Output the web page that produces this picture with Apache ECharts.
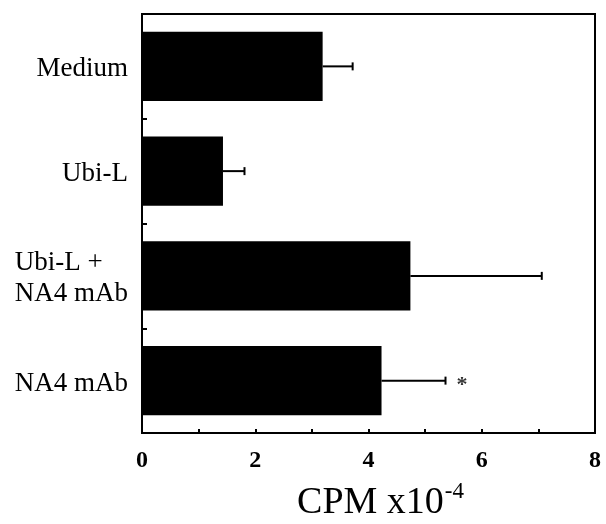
<!DOCTYPE html>
<html><head><meta charset="utf-8">
<script src="https://cdn.jsdelivr.net/npm/echarts@6/dist/echarts.min.js"></script>
<style>html,body{margin:0;padding:0;background:#fff}#c{width:606px;height:524px}</style>
</head><body><div id="c"></div>
<script>
const categories = ['Medium', 'Ubi-L', 'Ubi-L +\nNA4 mAb', 'NA4 mAb'];
const means = [3.19, 1.43, 4.74, 4.23];
const errors = [0.53, 0.38, 2.32, 1.13];
const xTicks = [0, 2, 4, 6, 8];
const annotations = [{ value: 5.65, category: 'NA4 mAb', text: '*' }];

const FONT = '"Liberation Serif", "DejaVu Serif", serif';
const chart = echarts.init(document.getElementById('c'));
chart.setOption({
  animation: false,
  backgroundColor: '#fff',
  grid: { left: 142, right: 11, top: 14, bottom: 91, outerBoundsMode: 'none', containLabel: false, show: true, borderColor: '#000', borderWidth: 2, backgroundColor: 'transparent' },
  xAxis: {
    type: 'value', min: xTicks[0], max: xTicks[xTicks.length - 1], interval: 2,
    axisLine: { show: true, lineStyle: { color: '#000', width: 2 } },
    axisTick: { show: true, inside: true, length: 4, lineStyle: { color: '#000', width: 2 } },
    minorTick: { show: true, splitNumber: 2, length: 4, lineStyle: { color: '#000', width: 2 } },
    splitLine: { show: false },
    axisLabel: { color: '#000', fontFamily: FONT, fontSize: 24, fontWeight: 'bold', margin: 16 },
    name: '{a|CPM x10}{b|-4}', nameLocation: 'middle', nameGap: 47,
    nameTextStyle: {
      padding: [0, 0, 0, 24],
      rich: {
        a: { fontFamily: FONT, fontSize: 38, color: '#000', verticalAlign: 'bottom', lineHeight: 42 },
        b: { fontFamily: FONT, fontSize: 23, color: '#000', verticalAlign: 'top', lineHeight: 42, padding: [0, 0, 0, 1] }
      }
    }
  },
  yAxis: {
    type: 'category', data: categories, inverse: true,
    axisLine: { show: true, lineStyle: { color: '#000', width: 2 } },
    axisTick: { show: true, inside: true, length: 5, lineStyle: { color: '#000', width: 2 } },
    axisLabel: {
      color: '#000', fontFamily: FONT, fontSize: 27, margin: 14, lineHeight: 31,
      padding: [6, 0, 0, 0],
      formatter: v => v.split('\n').map(s => '{l|' + s + '}').join('\n'),
      rich: { l: { fontFamily: FONT, fontSize: 27, color: '#000', align: 'left', lineHeight: 31 } }
    }
  },
  series: [
    {
      type: 'bar', data: means, barWidth: '66%',
      itemStyle: { color: '#000' }
    },
    {
      type: 'custom',
      renderItem: function (params, api) {
        const yi = api.value(0);
        const m = api.value(1), e = api.value(2);
        const p0 = api.coord([m, yi]);
        const p1 = api.coord([m + e, yi]);
        return {
          type: 'group',
          children: [
            { type: 'line', shape: { x1: p0[0], y1: p0[1], x2: p1[0], y2: p1[1] }, style: { stroke: '#000', lineWidth: 2 } },
            { type: 'line', shape: { x1: p1[0], y1: p1[1] - 4, x2: p1[0], y2: p1[1] + 4 }, style: { stroke: '#000', lineWidth: 2 } }
          ]
        };
      },
      encode: { x: 1, y: 0 },
      data: means.map((m, i) => [i, m, errors[i]]),
      z: 3
    },
    {
      type: 'scatter', symbolSize: 0,
      data: annotations.map(a => ({ value: [a.value, a.category], label: { show: true, formatter: a.text } })),
      label: { show: true, position: 'inside', color: '#000', fontFamily: FONT, fontSize: 22, fontWeight: 'bold', offset: [0, 5] }
    }
  ]
});
</script></body></html>
